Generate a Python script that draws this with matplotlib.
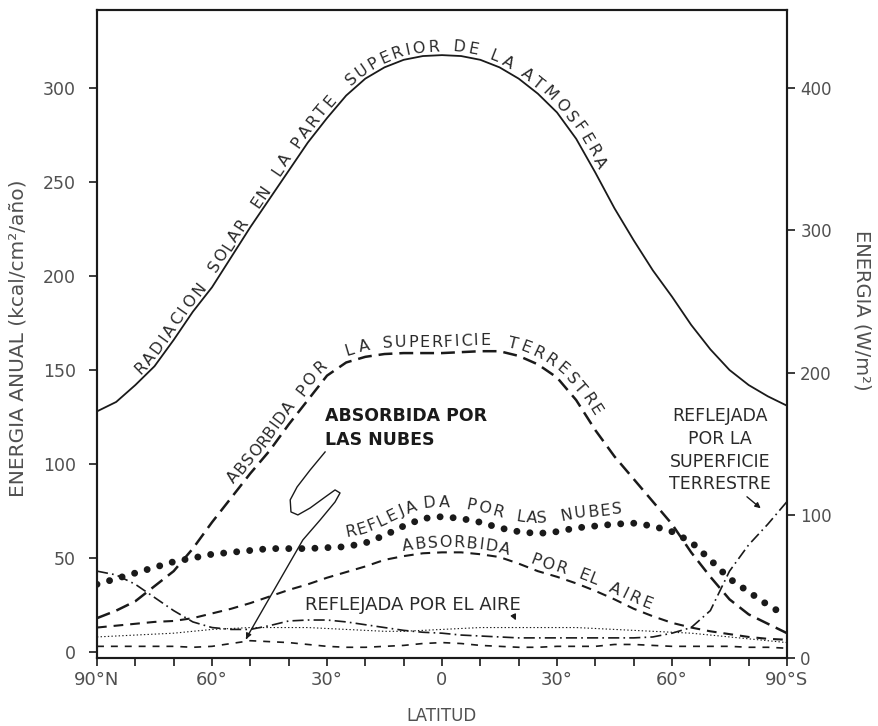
import matplotlib
matplotlib.use("Agg")
import numpy as np
import matplotlib.pyplot as plt
from matplotlib.font_manager import FontProperties

plt.rcParams['lines.scale_dashes'] = False
plt.rcParams['font.family'] = ['DejaVu Sans']

# Latitude: negative = North, positive = South
LAT = [-90, -85, -80, -75, -70, -65, -60, -55, -50, -45, -40, -35, -30, -25, -20, -15, -10, -5,
       0, 5, 10, 15, 20, 25, 30, 35, 40, 45, 50, 55, 60, 65, 70, 75, 80, 85, 90]

# Radiación solar en la parte superior de la atmósfera (kcal/cm2/año)
TOA = [128, 133, 142, 152, 166, 181, 194, 210, 226, 241, 256, 271, 284, 296, 305, 311, 315, 317,
       317.5, 317, 315, 311, 305, 297, 287, 273, 255, 236, 219, 203, 189, 174, 161, 150, 142, 136, 131]

# Absorbida por la superficie terrestre
ABS_SURF = [18, 22, 27, 35, 43, 55, 69, 82, 95, 107, 121, 134, 147, 154, 157, 158.5, 159, 159,
            159, 159.5, 160, 160, 157.5, 153, 146, 134, 118, 104, 92, 80, 68, 53, 40, 28, 20, 15, 10]

# Reflejada por las nubes
REFL_CLOUDS = [36, 39, 42, 45, 48, 50, 52, 53, 54, 55, 55, 55, 55.5, 56, 58, 62, 67, 71,
               72, 71, 69, 66, 64, 63, 64, 66, 67, 68, 68.5, 67, 64, 58.5, 49, 39, 32, 25, 19]

# Absorbida por el aire
ABS_AIR = [13, 14, 15, 16, 16.5, 18, 20.5, 23, 26, 29.5, 33, 36, 39.5, 42.5, 45.5, 49, 51, 52.5,
           53, 53, 52, 50.5, 47, 43, 40, 36.5, 32.5, 28, 23, 19, 15.5, 13, 11, 9.5, 8, 7, 6.5]

# Reflejada por la superficie terrestre
REFL_SURF = [43, 41, 36, 29, 22, 16, 13, 12, 12, 14, 16.5, 17, 17, 16, 14.5, 13, 11.5, 10.5,
             10, 9, 8.5, 8, 7.5, 7.5, 7.5, 7.5, 7.5, 7.5, 7.5, 8, 10, 13, 22, 43, 57, 68, 80]

# Reflejada por el aire
REFL_AIR = [8, 8.5, 9, 9.5, 10, 11, 12, 12.5, 13, 13, 13, 13, 12.5, 12, 11.5, 11, 11, 11.5,
            12, 12.5, 13, 13, 13, 13, 13, 13, 12.5, 12, 11.5, 11, 10.5, 10, 9, 8, 7, 6, 5]

# Absorbida por las nubes
ABS_CLOUDS = [3, 3, 3, 3, 3, 2.5, 3, 4.5, 6, 5.5, 5, 4, 3, 2.5, 2.5, 3, 3.5, 4.5,
              5, 4.5, 3.5, 3, 2.5, 2.5, 3, 3, 3, 4, 4, 3.5, 3, 3, 3, 3, 2.5, 2.5, 2]

XTICKS = [-90, -60, -30, 0, 30, 60, 90]
XTICKLABELS = ['90°N', '60°', '30°', '0', '30°', '60°', '90°S']
YTICKS = [0, 50, 100, 150, 200, 250, 300]
Y2TICKS = [0, 100, 200, 300, 400]

# words written along each curve: (word, letter tracking px, gap before px)
TOA_WORDS = [('RADIACION', 2.4, 0), ('SOLAR', 1.5, 18), ('EN', 0.5, 17), ('LA', 2.5, 16),
             ('PARTE', 2.5, 11), ('SUPERIOR', 2.0, 19), ('DE', 2.5, 13), ('LA', 3.5, 11),
             ('ATMOSFERA', 3.0, 11)]
SURF_WORDS = [('ABSORBIDA', 0.6, 0), ('POR', 2.3, 12), ('LA', 4, 19), ('SUPERFICIE', 1.6, 12),
              ('TERRESTRE', 2.2, 15)]
CLOUD_WORDS = [('REFLEJADA', 2.3, 0), ('POR', 2, 14), ('LAS', 2, 15), ('NUBES', 1.3, 15)]
AIR_WORDS = [('ABSORBIDA', 1.2, 0), ('POR', 2, 22), ('EL', 0.5, 13), ('AIRE', 3.0, 13)]

INK = '#1a1a1a'
GRAY = '#505050'
TXT = '#2a2a2a'

fig = plt.figure(figsize=(8.79, 7.26), dpi=100)
ax = fig.add_axes([97 / 879, 1 - 658 / 726, 690 / 879, 648 / 726])

ax.plot(LAT, TOA, color=INK, lw=1.3)
ax.plot(LAT, ABS_SURF, color=INK, lw=1.8, dashes=(10, 5))
ax.plot(LAT, REFL_CLOUDS, color=INK, lw=5, dashes=(0.01, 9.4), dash_capstyle='round')
ax.plot(LAT, ABS_AIR, color=INK, lw=1.5, dashes=(7, 5))
ax.plot(LAT, REFL_SURF, color=INK, lw=1.2, dashes=(8, 3, 1.2, 3))
ax.plot(LAT, REFL_AIR, color=INK, lw=0.8, dashes=(1, 1.6))
ax.plot(LAT, ABS_CLOUDS, color=INK, lw=1.2, dashes=(5, 5))

ax.set_xlim(-90, 90)
ax.set_ylim(-3.2, 341.5)
ax.set_xticks(XTICKS)
ax.set_xticklabels(XTICKLABELS)
ax.set_xticks(range(-90, 91, 10), minor=True)
ax.set_yticks(YTICKS)
ax.tick_params(axis='both', which='both', direction='out', length=6, width=1.2,
               colors=INK, labelcolor=GRAY, labelsize=12.5)
ax.tick_params(axis='x', labelsize=13)
ax.tick_params(axis='y', pad=9)
for s in ax.spines.values():
    s.set_linewidth(1.5)
    s.set_color(INK)

ax2 = ax.twinx()
ax2.set_ylim(0, 454.7)
ax2.set_yticks(Y2TICKS)
ax2.tick_params(axis='y', direction='out', length=6, width=1.2, colors=INK,
                labelcolor=GRAY, labelsize=12)
for s in ax2.spines.values():
    s.set_linewidth(1.5)
    s.set_color(INK)

ax.set_ylabel('ENERGIA ANUAL (kcal/cm²/año)', fontsize=14.5, color=GRAY, va='center')
ax.yaxis.set_label_coords(-0.1145, 0.494)
ax2.set_ylabel('ENERGIA (W/m²)', fontsize=14, color=GRAY, rotation=270, va='center')
ax2.yaxis.set_label_coords(1.109, 0.537)
ax.set_xlabel('LATITUD', fontsize=12, color=GRAY, labelpad=13)

renderer = fig.canvas.get_renderer()


def curve_words(xs, ys, start_lat, words, offset, size):
    """Write words letter by letter along a data curve, offset (px) to its upper side."""
    P = ax.transData.transform(np.column_stack([xs, ys]))
    seg = np.diff(P, axis=0)
    s = np.concatenate([[0], np.cumsum(np.hypot(seg[:, 0], seg[:, 1]))])
    prop = FontProperties(family='DejaVu Sans', size=size)

    def at(sv):
        return np.array([np.interp(sv, s, P[:, 0]), np.interp(sv, s, P[:, 1])])

    pos = np.interp(ax.transData.transform((start_lat, 0))[0], P[:, 0], s)
    for word, track, gap in words:
        pos += gap
        for c in word:
            w = renderer.get_text_width_height_descent(c, prop, ismath=False)[0]
            sm = pos + w / 2
            a, b = at(sm - 7), at(sm + 7)
            ang = np.arctan2(b[1] - a[1], b[0] - a[0])
            p = at(sm) + offset * np.array([-np.sin(ang), np.cos(ang)])
            xdat, ydat = ax.transData.inverted().transform(p)
            ax.text(xdat, ydat, c, fontproperties=prop, color=TXT, rotation=np.degrees(ang),
                    rotation_mode='anchor', ha='center', va='baseline')
            pos += w + track
        pos -= track


curve_words(LAT, TOA, -78, TOA_WORDS, 4, 11.5)
curve_words(LAT, ABS_SURF, -53, SURF_WORDS, 6, 11.5)
curve_words(LAT, REFL_CLOUDS, -24.5, CLOUD_WORDS, 10, 11.5)
curve_words(LAT, ABS_AIR, -10, AIR_WORDS, 5, 11.5)

ax.text(-35.7, 25, 'REFLEJADA POR EL AIRE', fontsize=13, color=TXT, ha='left', va='center')
ax.text(72.5, 107.4, 'REFLEJADA\nPOR LA\nSUPERFICIE\nTERRESTRE', fontsize=12.5, color=TXT,
        ha='center', va='center', linespacing=1.35)
ax.text(-30.5, 119, 'ABSORBIDA POR\nLAS NUBES', fontsize=12.5, fontweight='bold',
        color='#1a1a1a', ha='left', va='center', linespacing=1.4)

# S-shaped leader for "absorbida por las nubes"
LEAD_X = [-30.5, -34.4, -37.8, -39.6, -39.4, -37.6, -34.4, -30.5, -27.9, -26.6, -27.9, -31.8,
          -36.3, -51.0]
LEAD_Y = [106.4, 96.8, 87.8, 80.9, 74.5, 72.9, 76.6, 82.4, 86.2, 84.6, 79.8, 70.2, 59.6, 7.5]
ax.plot(LEAD_X, LEAD_Y, color=INK, lw=1.0, solid_joinstyle='round')
ax.annotate('', xy=(-51.4, 5.5), xytext=(-50.6, 9),
            arrowprops=dict(arrowstyle='-|>', lw=1.0, color=INK, mutation_scale=8))

# small arrows
ax.annotate('', xy=(19.6, 15.5), xytext=(18.3, 21),
            arrowprops=dict(arrowstyle='-|>', lw=1.0, color=INK, mutation_scale=8))
ax.annotate('', xy=(83.7, 75.5), xytext=(79, 83.5),
            arrowprops=dict(arrowstyle='-|>', lw=1.0, color=INK, mutation_scale=8))

fig.savefig('out.png', dpi=100)
